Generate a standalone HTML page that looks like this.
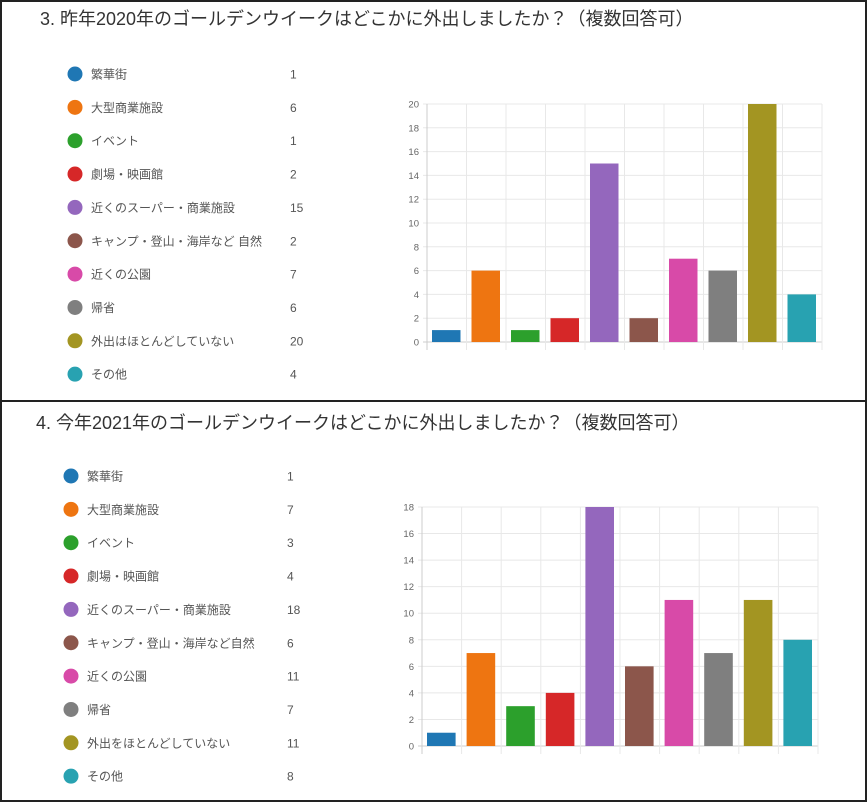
<!DOCTYPE html>
<html><head><meta charset="utf-8"><style>
body{margin:0;width:867px;height:803px;background:#fff;overflow:hidden;font-family:"Liberation Sans","Noto Sans CJK JP",sans-serif;}
</style></head><body>
<svg width="867" height="803" xmlns="http://www.w3.org/2000/svg" font-family="Liberation Sans, Noto Sans CJK JP, sans-serif">
<rect x="1" y="1" width="865" height="800" fill="none" stroke="#222" stroke-width="2"/>
<line x1="0" y1="401" x2="867" y2="401" stroke="#222" stroke-width="2"/>
<g id="c"></g>
</svg>
<script>
const ns="http://www.w3.org/2000/svg",g=document.getElementById('c');
function el(t,a,txt){const e=document.createElementNS(ns,t);for(const k in a)e.setAttribute(k,a[k]);if(txt!==undefined)e.textContent=txt;g.appendChild(e);return e;}
const cols=["#1f77b4","#ee7511","#2ca02c","#d62728","#9467bd","#8c564b","#d84aa8","#7f7f7f","#a39522","#28a2b1"];
function block(o){
 el('text',{x:o.tx,y:o.ty,'font-size':18,fill:'#333'},o.title);
 o.labels.forEach((l,i)=>{const y=o.ly+i*33.35;
  el('circle',{cx:o.dx,cy:y,r:7.5,fill:cols[i]});
  el('text',{x:o.dx+16,y:y+4.5,'font-size':12,fill:'#555'},l);
  el('text',{x:o.nx,y:y+4.5,'font-size':12,fill:'#555'},o.vals[i]);});
 const x0=o.ax,x1=o.ar,y0=o.a0,yt=o.atop,step=(x1-x0)/10,max=o.max;
 for(let v=0;v<=max;v+=2){const y=y0-(y0-yt)*v/max;
  el('line',{x1:x0-4,y1:y,x2:x1,y2:y,stroke:v==0?'#ccc':'#e8e8e8'});
  el('text',{x:x0-8,y:y+3.5,'font-size':9.5,fill:'#666','text-anchor':'end'},v);}
 for(let i=0;i<=10;i++){const x=x0+i*step;el('line',{x1:x,y1:yt,x2:x,y2:y0+8,stroke:i==0?'#ccc':'#e8e8e8'});}
 o.vals.forEach((v,i)=>{const h=(y0-yt)*v/max;el('rect',{x:x0+i*step+5,y:y0-h,width:step-11,height:h,fill:cols[i]});});
}
block({title:"3.  昨年2020年のゴールデンウイークはどこかに外出しましたか？（複数回答可）",tx:40,ty:25,dx:75,ly:74,nx:290,
labels:["繁華街","大型商業施設","イベント","劇場・映画館","近くのスーパー・商業施設","キャンプ・登山・海岸など 自然","近くの公園","帰省","外出はほとんどしていない","その他"],
vals:[1,6,1,2,15,2,7,6,20,4],ax:427,ar:822,a0:342,atop:104,max:20});
block({title:"4.  今年2021年のゴールデンウイークはどこかに外出しましたか？（複数回答可）",tx:36,ty:429,dx:71,ly:476,nx:287,
labels:["繁華街","大型商業施設","イベント","劇場・映画館","近くのスーパー・商業施設","キャンプ・登山・海岸など自然","近くの公園","帰省","外出をほとんどしていない","その他"],
vals:[1,7,3,4,18,6,11,7,11,8],ax:422,ar:818,a0:746,atop:507,max:18});
</script>
</body></html>
